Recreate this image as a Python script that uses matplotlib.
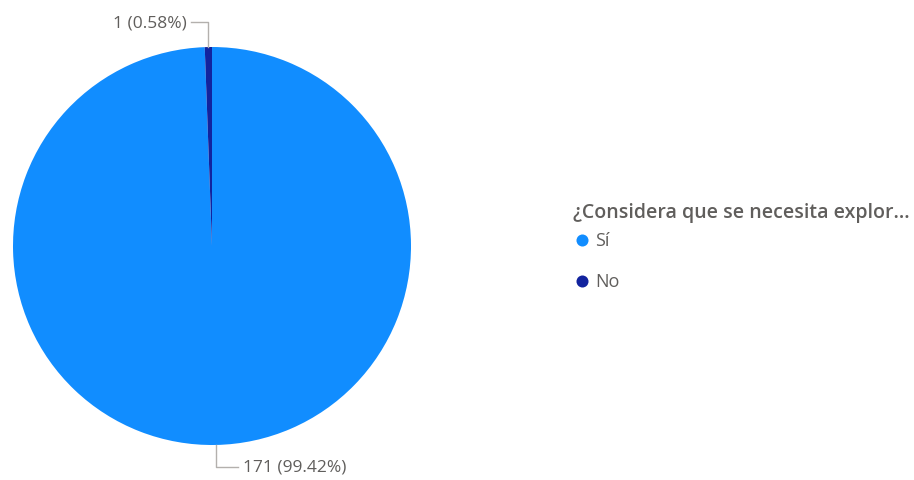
import numpy as np
import matplotlib.pyplot as plt

categories = ["Sí", "No"]
counts = [171, 1]
colors = ["#118DFF", "#12239E"]
legend_title = "¿Considera que se necesita explor..."

TXT = "#605E5C"
LINE = "#B3B0AD"
W, H = 914, 481

plt.rcParams["font.family"] = ["Open Sans", "DejaVu Sans"]

fig = plt.figure(figsize=(W / 100, H / 100), dpi=100)
ax = fig.add_axes([0, 0, 1, 1])

cx, cy, r = 212, H - 247, 199
wedges, _ = ax.pie(counts, colors=colors, startangle=90, counterclock=False,
                   center=(cx, cy), radius=r, frame=True,
                   wedgeprops=dict(linewidth=0))
ax.set_xlim(0, W)
ax.set_ylim(0, H)
ax.set_aspect("equal")
ax.axis("off")

total = sum(counts)
for w, n in zip(wedges, counts):
    mid = np.deg2rad((w.theta1 + w.theta2) / 2)
    ex, ey = cx + r * np.cos(mid), cy + r * np.sin(mid)
    lab = f"{n} ({n / total * 100:.2f}%)"
    if ey > cy:
        ty = ey + 25
        ax.plot([ex, ex, ex - 17], [ey, ty, ty], color=LINE, lw=1)
        ax.text(ex - 22, ty, lab, ha="right", va="center", fontsize=12.5, color=TXT)
    else:
        ty = ey - 22
        ax.plot([ex, ex, ex + 22], [ey, ty, ty], color=LINE, lw=1)
        ax.text(ex + 27, ty, lab, ha="left", va="center", fontsize=12.5, color=TXT)

# legend
ax.text(573, H - 213, legend_title, ha="left", va="center", fontsize=14.0,
        fontweight="semibold", color=TXT)
for i, (c, col) in enumerate(zip(categories, colors)):
    y = H - (241 + 41 * i)
    ax.scatter([582], [y], s=75, color=col, linewidths=0)
    ax.text(595, y, c, ha="left", va="center", fontsize=13, color=TXT)

fig.savefig("out.png", dpi=100, facecolor="white")
